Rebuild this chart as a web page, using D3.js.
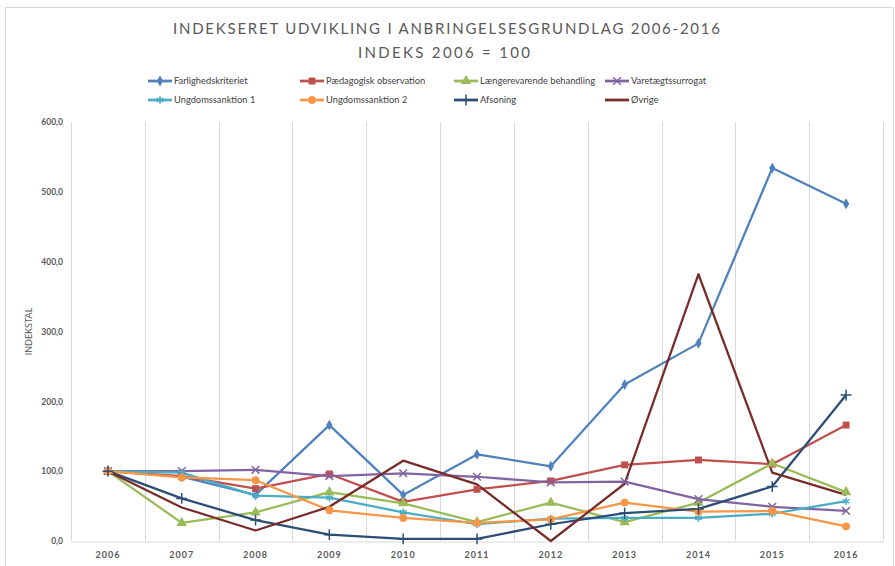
<!DOCTYPE html>
<html>
<head>
	<meta charset="utf-8">
	<style type="text/css">
		body{
			margin: 0;
			background-color: white;
		}
		text{
			font-family: Lato, 'Open Sans', sans-serif;
		}
	</style>
	<script src="https://cdn.jsdelivr.net/npm/d3@7"></script>
</head>
<body>
	<div id="chart"></div>

	<script type="text/javascript">
		const years = ['2006','2007','2008','2009','2010','2011','2012','2013','2014','2015','2016'];
		const farlighed = [100, 92, 66, 166, 66, 124, 107, 224, 283, 534, 483];
		const paedagogisk = [100, 93, 75, 96, 56, 74, 86, 109, 116, 110, 166];
		const laengere = [100, 26, 41, 70, 54, 27, 55, 27, 55, 111, 70];
		const varetaegt = [100, 100, 102, 93, 97, 92, 84, 85, 60, 49, 43];
		const ungdom1 = [100, 98, 65, 62, 41, 24, 32, 33, 33, 39, 57];
		const ungdom2 = [100, 91, 87, 44, 33, 26, 31, 55, 42, 43, 21];
		const afsoning = [100, 61, 30, 9, 3, 3, 24, 40, 46, 78, 209];
		const oevrige = [100, 48, 15, 49, 115, 81, 0, 82, 382, 98, 66];
		const yTicks = [0, 100, 200, 300, 400, 500, 600];

		const series = [
			{name: 'Farlighedskriteriet', values: farlighed, color: '#4F81BD', sym: d3.symbolDiamond, size: 34, stroke: false},
			{name: 'Pædagogisk observation', values: paedagogisk, color: '#C0504D', sym: d3.symbolSquare, size: 48, stroke: false},
			{name: 'Længerevarende behandling', values: laengere, color: '#9BBB59', sym: d3.symbolTriangle, size: 48, stroke: false},
			{name: 'Varetægtssurrogat', values: varetaegt, color: '#8064A2', sym: d3.symbolX, size: 40, stroke: true},
			{name: 'Ungdomssanktion 1', values: ungdom1, color: '#4BACC6', sym: d3.symbolAsterisk, size: 40, stroke: true},
			{name: 'Ungdomssanktion 2', values: ungdom2, color: '#F79646', sym: d3.symbolCircle, size: 48, stroke: false},
			{name: 'Afsoning', values: afsoning, color: '#2C4D75', sym: d3.symbolPlus, size: 40, stroke: true},
			{name: 'Øvrige', values: oevrige, color: '#772C2A', sym: null, size: 0, stroke: false}
		];

		const [w, h] = [895, 566];
		const plot = {left: 71, right: 883, top: 122, bottom: 541};

		const svg = d3.select('#chart')
			.append('svg')
			.attr('width', w)
			.attr('height', h);

		// frame
		svg.append('rect')
			.attr('x', 5.5)
			.attr('y', 7.5)
			.attr('width', 888)
			.attr('height', 570)
			.attr('fill', 'white')
			.attr('stroke', '#d9d9d9');

		const xScale = d3.scaleBand()
			.domain(years)
			.range([plot.left, plot.right]);
		const yScale = d3.scaleLinear()
			.domain([0, 600])
			.range([plot.bottom, plot.top]);

		// vertical gridlines on the band edges
		svg.append('g')
			.selectAll('line')
			.data(years)
			.enter()
			.append('line')
			.attr('x1', d => Math.round(xScale(d)) + 0.5)
			.attr('x2', d => Math.round(xScale(d)) + 0.5)
			.attr('y1', plot.top)
			.attr('y2', plot.bottom)
			.attr('stroke', '#d9d9d9');
		svg.append('line')
			.attr('x1', plot.right + 0.5)
			.attr('x2', plot.right + 0.5)
			.attr('y1', plot.top)
			.attr('y2', plot.bottom)
			.attr('stroke', '#d9d9d9');

		// x axis
		const xAxis = d3.axisBottom(xScale).tickSize(0).tickPadding(10);
		const gx = svg.append('g')
			.attr('transform', `translate(0,${plot.bottom + 0.5})`)
			.call(xAxis);
		gx.select('.domain').attr('stroke', '#d9d9d9');
		gx.selectAll('text')
			.attr('fill', '#595959')
			.attr('font-size', '9px')
			.attr('font-weight', 'bold')
			.attr('letter-spacing', '1px')
			.attr('font-family', "'Open Sans', sans-serif");

		// y axis
		const fmt = d3.format('.1f');
		const yAxis = d3.axisLeft(yScale)
			.tickValues(yTicks)
			.tickSize(0)
			.tickPadding(8)
			.tickFormat(d => fmt(d).replace('.', ','));
		const gy = svg.append('g')
			.attr('transform', `translate(${plot.left},0)`)
			.call(yAxis);
		gy.select('.domain').remove();
		gy.selectAll('text')
			.attr('fill', '#595959')
			.attr('font-size', '8.5px')
			.attr('font-weight', 'bold')
			.attr('font-family', "'Open Sans', sans-serif");

		svg.append('text')
			.attr('transform', `translate(32,${(plot.top + plot.bottom) / 2}) rotate(-90)`)
			.attr('text-anchor', 'middle')
			.attr('fill', '#595959')
			.attr('font-size', '9px')
			.text('INDEKSTAL');

		// lines
		const line = d3.line()
			.x((d, i) => xScale(years[i]) + xScale.bandwidth() / 2)
			.y(d => yScale(d));

		series.forEach(s => {
			svg.append('path')
				.datum(s.values)
				.attr('d', line)
				.attr('fill', 'none')
				.attr('stroke', s.color)
				.attr('stroke-width', 2.25)
				.attr('stroke-linejoin', 'round');
		});

		series.forEach(s => {
			if (!s.sym) return;
			svg.append('g')
				.selectAll('path')
				.data(s.values)
				.enter()
				.append('path')
				.attr('transform', (d, i) => `translate(${xScale(years[i]) + xScale.bandwidth() / 2},${yScale(d)})`)
				.attr('d', d3.symbol().type(s.sym).size(s.size))
				.attr('fill', s.stroke ? 'none' : s.color)
				.attr('stroke', s.color)
				.attr('stroke-width', s.stroke ? 1.5 : 0);
		});

		// title
		svg.append('text')
			.attr('x', 173)
			.attr('y', 34)
			.attr('textLength', 547)
			.attr('lengthAdjust', 'spacing')
			.attr('fill', '#595959')
			.attr('font-size', '15px')
			.attr('font-family', "'Open Sans', sans-serif")
			.text('INDEKSERET UDVIKLING I ANBRINGELSESGRUNDLAG 2006-2016');
		svg.append('text')
			.attr('x', 358)
			.attr('y', 57.5)
			.attr('textLength', 172)
			.attr('lengthAdjust', 'spacing')
			.attr('fill', '#595959')
			.attr('font-size', '15px')
			.attr('font-family', "'Open Sans', sans-serif")
			.text('INDEKS 2006 = 100');

		// legend
		const legendCols = [174, 326, 480, 631];
		const legendRows = [81, 100];
		const legend = svg.append('g')
			.selectAll('g')
			.data(series)
			.enter()
			.append('g')
			.attr('transform', (d, i) => `translate(${legendCols[i % 4]},${legendRows[Math.floor(i / 4)]})`);
		legend.append('line')
			.attr('x1', -26)
			.attr('x2', -2)
			.attr('stroke', d => d.color)
			.attr('stroke-width', 2.75);
		legend.filter(d => d.sym)
			.append('path')
			.attr('transform', 'translate(-14,0)')
			.attr('d', d => d3.symbol().type(d.sym).size(d.size)())
			.attr('fill', d => d.stroke ? 'none' : d.color)
			.attr('stroke', d => d.color)
			.attr('stroke-width', d => d.stroke ? 1.5 : 0);
		legend.append('text')
			.attr('x', 0)
			.attr('y', 3)
			.attr('fill', '#404040')
			.attr('font-size', '9.3px')
			.text(d => d.name);
	</script>
</body>
</html>
